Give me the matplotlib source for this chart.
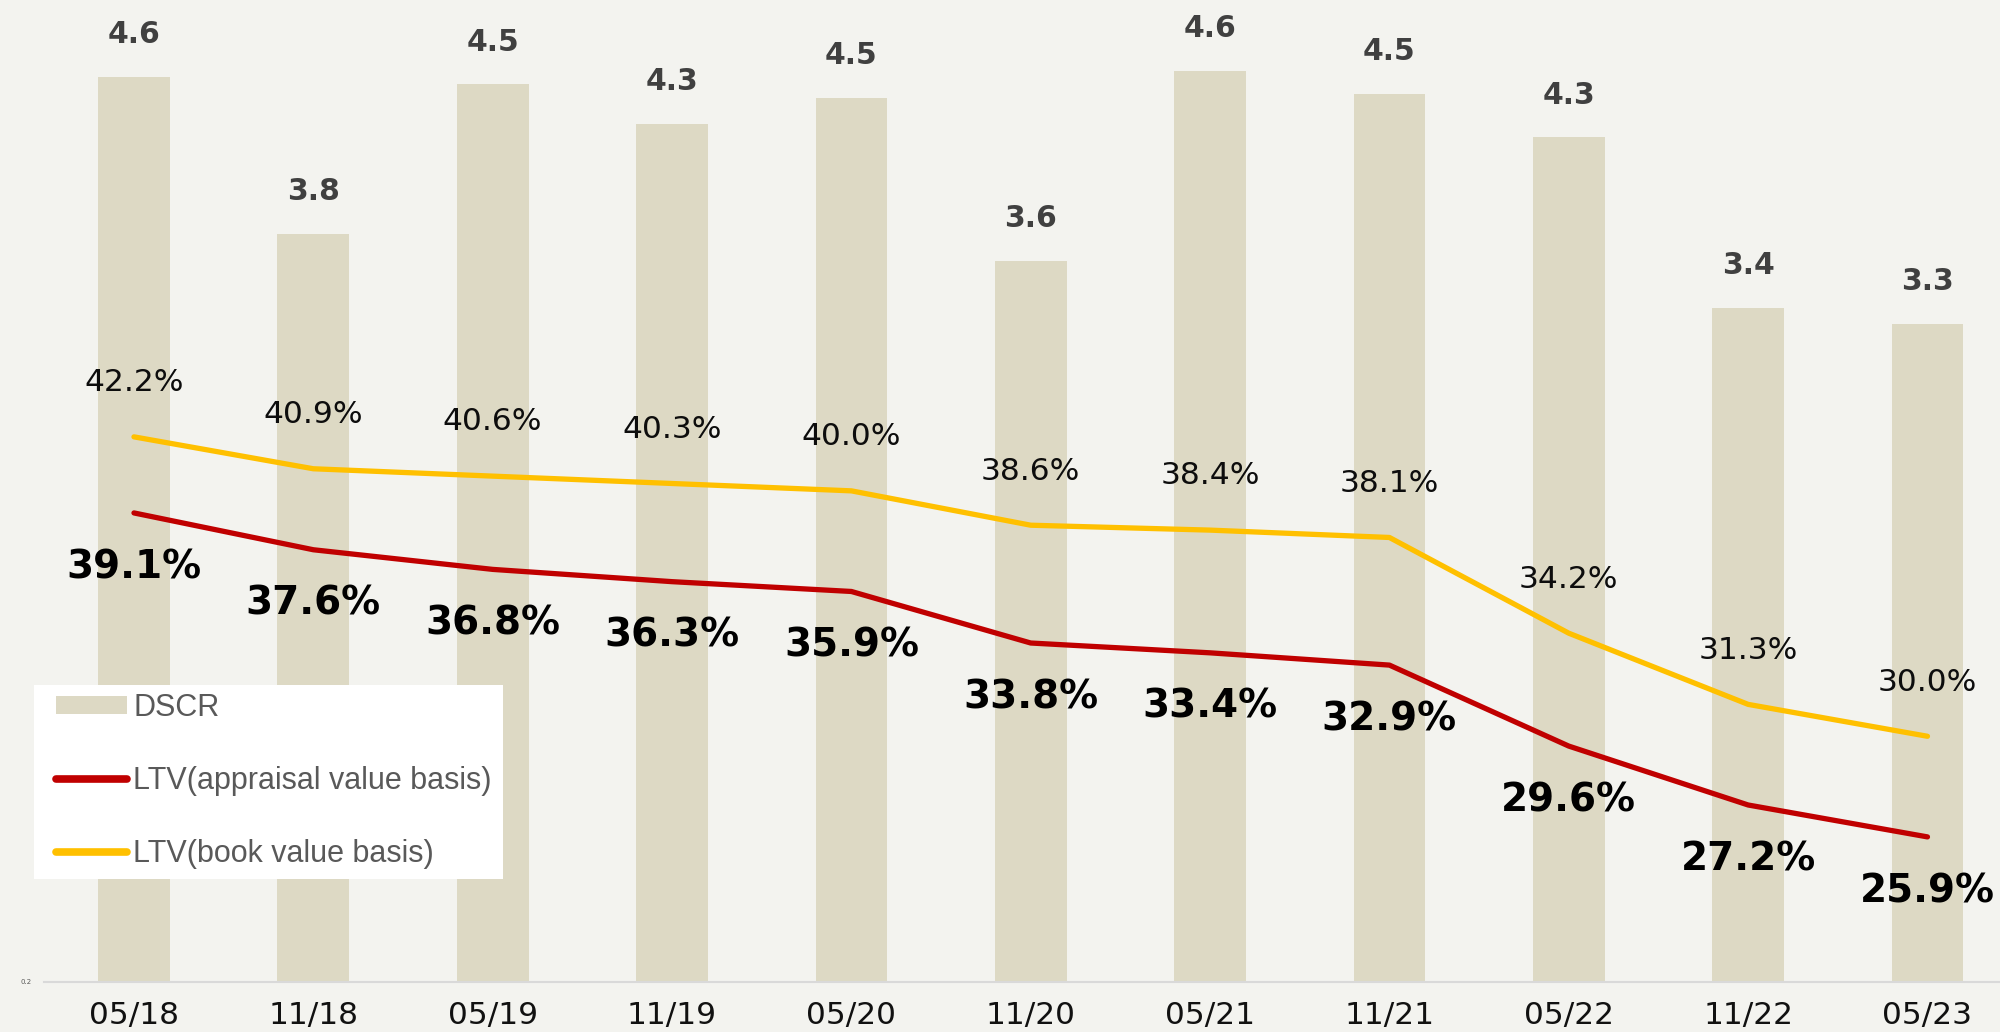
import math
import matplotlib
matplotlib.use("Agg")
import matplotlib.pyplot as plt
from matplotlib.lines import Line2D
from matplotlib.patches import Patch, Rectangle

# ---- data ----
categories = ["05/18", "11/18", "05/19", "11/19", "05/20", "11/20",
              "05/21", "11/21", "05/22", "11/22", "05/23"]
dscr = [4.61, 3.81, 4.57, 4.37, 4.50, 3.67, 4.64, 4.52, 4.30, 3.43, 3.35]
ltv_appraisal = [39.1, 37.6, 36.8, 36.3, 35.9, 33.8, 33.4, 32.9, 29.6, 27.2, 25.9]
ltv_book = [42.2, 40.9, 40.6, 40.3, 40.0, 38.6, 38.4, 38.1, 34.2, 31.3, 30.0]
legend_labels = ["DSCR", "LTV(appraisal value basis)", "LTV(book value basis)"]

# ---- style ----
BG = "#f3f3ef"
BAR = "#ddd9c4"
RED = "#c00000"
YEL = "#ffc000"

W, H = 2000, 1032
fig = plt.figure(figsize=(W / 100, H / 100), dpi=100)
fig.patch.set_facecolor(BG)

base_y = 981.7
left_px = 44.3
step_px = 179.35
ax = fig.add_axes([left_px / W, 1 - base_y / H, 11 * step_px / W, base_y / H])
ax.patch.set_visible(False)

x = list(range(len(categories)))
ax.bar(x, dscr, width=0.40, color=BAR, zorder=1)
ax.set_xlim(-0.5, len(categories) - 0.5)
ax.set_ylim(0, 5)
for s in ["top", "left", "right"]:
    ax.spines[s].set_visible(False)
ax.spines["bottom"].set_color("#d9d9d9")
ax.spines["bottom"].set_linewidth(1.5)
ax.set_yticks([])
ax.set_xticks(x)
ax.set_xticklabels(categories, fontsize=22.5, color="#111111")
ax.tick_params(axis="x", length=0, pad=14)

for xi, v in zip(x, dscr):
    lab = f"{math.floor(v * 10 + 1e-9) / 10:.1f}"
    ax.annotate(lab, (xi, v), xytext=(0, 30.5), textcoords="offset points",
                ha="center", va="center", fontsize=21.5, fontweight="bold",
                color="#404040")

ax2 = ax.twinx()
ax2.set_ylim(0.2, 0.6)
for s in ax2.spines.values():
    s.set_visible(False)
ax2.yaxis.set_ticks_position("left")
ax2.set_yticks([0.2])
ax2.set_yticklabels(["0.2"], fontsize=5, color="#595959")
ax2.tick_params(axis="y", length=0, pad=9)

ra = [v / 100 for v in ltv_appraisal]
rb = [v / 100 for v in ltv_book]
ax2.plot(x, rb, color=YEL, lw=3.8, solid_capstyle="round", solid_joinstyle="round", zorder=3)
ax2.plot(x, ra, color=RED, lw=3.8, solid_capstyle="round", solid_joinstyle="round", zorder=3)

for xi, v in zip(x, ltv_book):
    ax2.annotate(f"{v:.1f}%", (xi, v / 100), xytext=(0, 39), textcoords="offset points",
                 ha="center", va="center", fontsize=22.5, color="#0d0d0d")
for xi, v in zip(x, ltv_appraisal):
    ax2.annotate(f"{v:.1f}%", (xi, v / 100), xytext=(0, -39), textcoords="offset points",
                 ha="center", va="center", fontsize=28, fontweight="bold", color="#000000")

# legend box (white panel) and legend content
box = Rectangle((34 / W, 1 - 879 / H), (503 - 34) / W, (879 - 685) / H,
                transform=fig.transFigure, facecolor="white", edgecolor="none", zorder=4)
ax2.add_patch(box)
box.set_clip_on(False)

handles = [Patch(facecolor=BAR, edgecolor="none"),
           Line2D([0], [0], color=RED, lw=5.5, solid_capstyle="round"),
           Line2D([0], [0], color=YEL, lw=5.5, solid_capstyle="round")]
leg = ax2.legend(handles, legend_labels, loc="upper left",
                 bbox_to_anchor=(56 / W, 1 - 693 / H), bbox_transform=fig.transFigure,
                 borderaxespad=0, frameon=False,
                 prop={"family": "Liberation Sans", "size": 22},
                 labelcolor="#595959", handlelength=2.32, handletextpad=0.2,
                 labelspacing=1.40, borderpad=0.0, handleheight=0.5)
leg.set_zorder(5)

fig.savefig("out.png", dpi=100, facecolor=BG)
